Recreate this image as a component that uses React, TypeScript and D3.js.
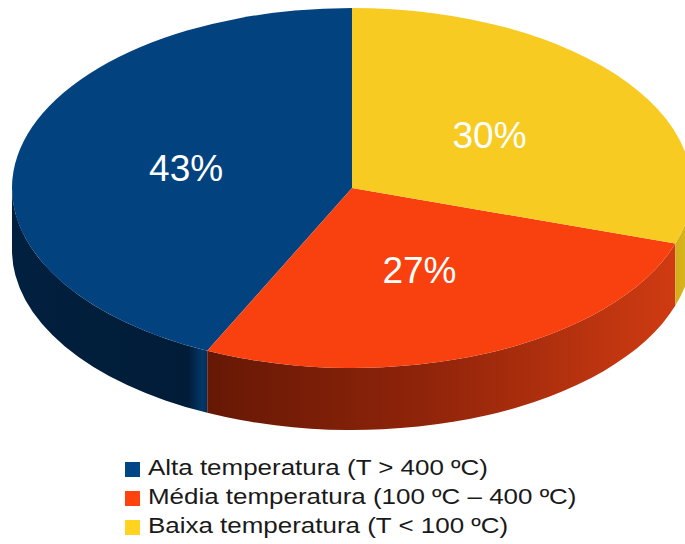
import React, { useRef, useEffect } from 'react';
import * as d3 from 'd3';

// legend order
const categories = ['Alta temperatura (T > 400 ºC)', 'Média temperatura (100 ºC – 400 ºC)', 'Baixa temperatura (T < 100 ºC)'];
const values = [43, 27, 30];
const topColors = ['#02437f', '#f8410e', '#f7cb22'];
const legendColors = ['#004586', '#ff420e', '#ffd320'];
const sideIds = ['sideBlue', 'sideRed', 'sideYellow'];

export default function App() {
  const svgRef = useRef<SVGSVGElement | null>(null);

  useEffect(() => {
    if (!svgRef.current) return;
    const width = 685, height = 544;
    const cx = 352, cy = 188, rx = 340, ry = 180, depth = 62;
    const svg = d3.select(svgRef.current);
    svg.selectAll('*').remove();
    svg.attr('width', width).attr('height', height).attr('viewBox', `0 0 ${width} ${height}`);

    const defs = svg.append('defs');
    const grad = (id: string, x1: number, x2: number, stops: [number, string][]) => {
      const g = defs.append('linearGradient').attr('id', id).attr('gradientUnits', 'userSpaceOnUse')
        .attr('x1', x1).attr('x2', x2).attr('y1', 0).attr('y2', 0);
      stops.forEach(([o, c]) => g.append('stop').attr('offset', o).attr('stop-color', c));
    };
    grad('sideBlue', 12, 208, [[0, '#01203f'], [0.9, '#011c37'], [0.97, '#03386a'], [1, '#022d57']]);
    grad('sideRed', 207, 685, [[0, '#661805'], [0.45, '#8f240a'], [1, '#d23c12']]);
    grad('sideYellow', 660, 685, [[0, '#c9a818'], [1, '#d8b41c']]);

    // counterclockwise from 12 o'clock: Alta, Média, Baixa
    const pie = d3.pie<number>().sort(null).startAngle(2 * Math.PI).endAngle(0);
    const arcs = pie(values);

    const pt = (a: number, dy = 0): [number, number] => [cx + rx * Math.sin(a), cy - ry * Math.cos(a) + dy];

    // side walls (front half only)
    arcs.forEach((d, i) => {
      const lo = Math.max(Math.min(d.startAngle, d.endAngle), Math.PI / 2);
      const hi = Math.min(Math.max(d.startAngle, d.endAngle), 1.5 * Math.PI);
      if (hi <= lo) return;
      const [x0, y0] = pt(lo), [x1, y1] = pt(hi);
      const p = `M${x0},${y0} A${rx},${ry} 0 0 1 ${x1},${y1} L${x1},${y1 + depth} A${rx},${ry} 0 0 0 ${x0},${y0 + depth} Z`;
      svg.append('path').attr('d', p).attr('fill', `url(#${sideIds[i]})`);
    });

    // top face
    const arc = d3.arc<d3.PieArcDatum<number>>().innerRadius(0).outerRadius(rx);
    const top = svg.append('g').attr('transform', `translate(${cx},${cy}) scale(1,${ry / rx})`);
    top.selectAll('path').data(arcs).join('path')
      .attr('d', (d) => arc(d) as string)
      .attr('fill', (_, i) => topColors[i]);

    // labels
    arcs.forEach((d, i) => {
      const mid = (d.startAngle + d.endAngle) / 2;
      const [lx, ly] = [cx + 0.5 * rx * Math.sin(mid), cy - 0.5 * ry * Math.cos(mid)];
      svg.append('text').attr('x', lx).attr('y', ly).attr('text-anchor', 'middle').attr('dominant-baseline', 'central')
        .attr('fill', 'white').attr('font-family', '"Liberation Sans", Arial, sans-serif').attr('font-size', '37px')
        .text(`${values[i]}%`);
    });

    // legend (text is drawn a bit wider than normal, as in the original)
    const leg = svg.append('g').attr('transform', 'translate(125,462)');
    categories.forEach((c, i) => {
      leg.append('rect').attr('x', 0).attr('y', i * 29).attr('width', 15).attr('height', 15).attr('fill', legendColors[i]);
      leg.append('text').attr('transform', `translate(23,${i * 29 + 13}) scale(1.18,1)`).attr('fill', '#1a1a1a')
        .attr('font-family', '"Liberation Sans", Arial, sans-serif').attr('font-size', '22px').text(c);
    });
  }, []);

  return <svg ref={svgRef} style={{ position: 'absolute', left: 0, top: 0, background: 'white' }} />;
}
